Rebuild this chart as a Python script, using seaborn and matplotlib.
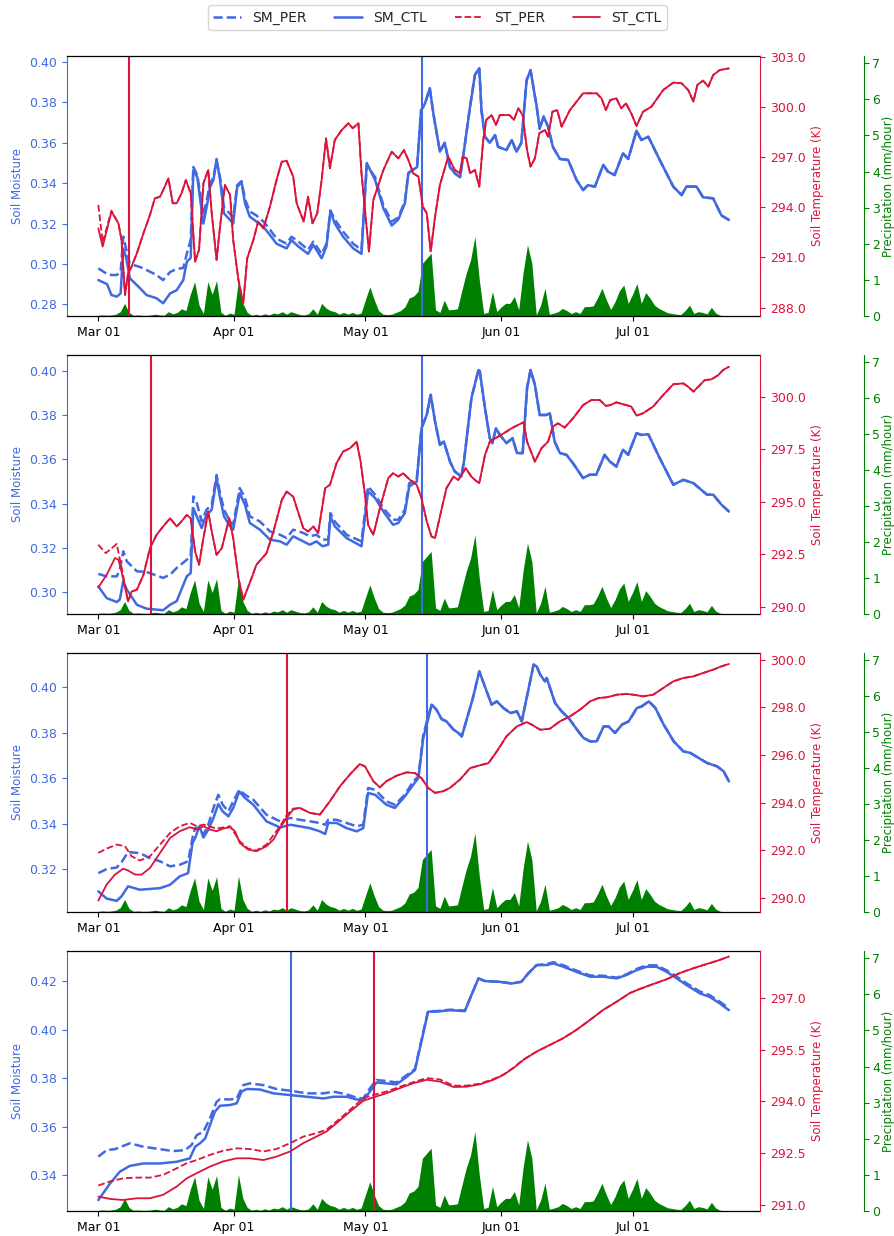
import numpy as np
import pandas as pd
import matplotlib
matplotlib.use("Agg")
import matplotlib.pyplot as plt
import matplotlib.dates as mdates
from matplotlib.lines import Line2D
from matplotlib.ticker import FormatStrFormatter
import seaborn as sns

# ---------------- data ----------------
START = "2019-03-01"   # day 0 of every series

# daily precipitation (mm/hour), day 0 .. 144 (same in all panels)
PRECIP = [0.02, 0.03, 0.02, 0.03, 0.05, 0.12, 0.35, 0.10, 0.02, 0.03,
          0.02, 0.02, 0.03, 0.05, 0.03, 0.02, 0.12, 0.06, 0.10, 0.20,
          0.15, 0.60, 0.95, 0.30, 0.07, 0.95, 0.60, 0.98, 0.10, 0.02,
          0.08, 0.05, 1.00, 0.35, 0.10, 0.02, 0.05, 0.02, 0.06, 0.03,
          0.08, 0.06, 0.12, 0.05, 0.12, 0.08, 0.04, 0.03, 0.06, 0.20,
          0.05, 0.35, 0.22, 0.15, 0.12, 0.05, 0.10, 0.05, 0.10, 0.05,
          0.08, 0.45, 0.81, 0.45, 0.15, 0.05, 0.04, 0.05, 0.10, 0.15,
          0.25, 0.50, 0.55, 0.68, 1.46, 1.60, 1.74, 0.17, 0.10, 0.44,
          0.17, 0.18, 0.20, 0.70, 1.18, 1.55, 2.20, 1.00, 0.07, 0.10,
          0.68, 0.12, 0.25, 0.35, 0.35, 0.54, 0.17, 1.20, 1.97, 1.46,
          0.03, 0.30, 0.77, 0.05, 0.08, 0.12, 0.21, 0.15, 0.07, 0.12,
          0.07, 0.26, 0.26, 0.28, 0.50, 0.77, 0.45, 0.18, 0.40, 0.70,
          0.86, 0.35, 0.60, 0.90, 0.35, 0.65, 0.49, 0.30, 0.21, 0.15,
          0.09, 0.07, 0.05, 0.04, 0.15, 0.30, 0.07, 0.12, 0.10, 0.06,
          0.24, 0.08, 0.02, 0.01, 0.00]

# ---- panel 1 : (day, value) ----
SM1_CTL = [(0, .2920), (2, .2900), (3, .2846), (4.2, .2838), (5.1, .2854), (5.7, .3077), (6.3, .3036),
           (7.2, .2929), (9.5, .2880), (11, .2846), (13.3, .2830), (14.8, .2805), (16.4, .2854),
           (17.9, .2870), (19.4, .2920), (20.2, .3010), (21.1, .3030), (21.7, .3465), (22.6, .3430),
           (23.2, .3330), (24, .3200), (24.9, .3300), (25.5, .3380), (26.3, .3416), (27, .3520),
           (27.8, .3416), (28.7, .3250), (30, .3220), (30.8, .3200), (31.7, .3380), (32.7, .3407),
           (33.5, .3300), (34.6, .3234), (36.1, .3210), (37.7, .3184), (39.2, .3143), (40.7, .3100),
           (43, .3077), (44.1, .3118), (45.7, .3086), (47.9, .3050), (49.1, .3094), (51, .3028),
           (52.1, .3086), (53, .3260), (54, .3200), (55.9, .3135), (58.2, .3077), (60.1, .3050),
           (61.3, .3500), (63.2, .3416), (65.1, .3275), (67, .3190), (68.5, .3220), (70, .3300),
           (70.8, .3449), (72.8, .3480), (73.7, .3760), (74.6, .3795), (75.7, .3870), (76.5, .3746),
           (78, .3556), (79.1, .3600), (80.3, .3480), (81.4, .3449), (82.6, .3430), (83.3, .3530),
           (84.9, .3780), (86, .3936), (87, .3970), (87.5, .3760), (88.3, .3630), (89.4, .3600),
           (90.6, .3638), (91.3, .3580), (93.2, .3564), (94.4, .3614), (95.5, .3556), (96.6, .3600),
           (97.8, .3910), (98.7, .3960), (100.1, .3780), (100.8, .3670), (101.7, .3730), (102.7, .3680),
           (103.8, .3580), (105.4, .3520), (107.3, .3515), (109.2, .3416), (110.7, .3366), (111.8, .3390),
           (113.4, .3383), (115.3, .3490), (116.4, .3457), (117.9, .3440), (119.8, .3548), (121, .3520),
           (122.9, .3660), (124, .3614), (125.6, .3630), (128.2, .3515), (131.3, .3383), (133.2, .3341),
           (134.3, .3383), (136.6, .3383), (138.1, .3330), (140.4, .3325), (142.3, .3240), (144, .3218)]
SM1_PER = [(0, .2978), (2, .2950), (3, .2945), (4.2, .2945), (5.1, .2960), (5.7, .3135), (6.3, .3080),
           (7.2, .3000), (9.5, .2985), (11, .2970), (13.3, .2945), (14.8, .2920), (16.4, .2960),
           (17.9, .2975), (19.4, .2980), (20.2, .3050), (21.1, .3120), (21.7, .3480), (22.6, .3440),
           (23.2, .3360), (24, .3240), (24.9, .3330), (25.5, .3400), (26.3, .3430), (27, .3510),
           (27.8, .3430), (28.7, .3280), (30, .3250), (30.8, .3230), (31.7, .3390), (32.7, .3410),
           (33.5, .3320), (34.6, .3260), (36.1, .3240), (37.7, .3210), (39.2, .3170), (40.7, .3125),
           (43, .3100), (44.1, .3135), (45.7, .3110), (47.9, .3070), (49.1, .3110), (51, .3050),
           (52.1, .3100), (53, .3265), (54, .3220), (55.9, .3160), (58.2, .3100), (60.1, .3070),
           (61.3, .3490), (63.2, .3430), (65.1, .3290), (67, .3210), (68.5, .3230), (70, .3310),
           (70.8, .3450), (72.8, .3485), (73.7, .3760), (74.6, .3795), (75.7, .3870), (76.5, .3746),
           (78, .3556), (79.1, .3600), (80.3, .3480), (81.4, .3449), (82.6, .3430), (83.3, .3530),
           (84.9, .3780), (86, .3936), (87, .3970), (87.5, .3760), (88.3, .3630), (89.4, .3600),
           (90.6, .3638), (91.3, .3580), (93.2, .3564), (94.4, .3614), (95.5, .3556), (96.6, .3600),
           (97.8, .3910), (98.7, .3960), (100.1, .3780), (100.8, .3670), (101.7, .3730), (102.7, .3680),
           (103.8, .3580), (105.4, .3520), (107.3, .3515), (109.2, .3416), (110.7, .3366), (111.8, .3390),
           (113.4, .3383), (115.3, .3490), (116.4, .3457), (117.9, .3440), (119.8, .3548), (121, .3520),
           (122.9, .3660), (124, .3614), (125.6, .3630), (128.2, .3515), (131.3, .3383), (133.2, .3341),
           (134.3, .3383), (136.6, .3383), (138.1, .3330), (140.4, .3325), (142.3, .3240), (144, .3218)]
ST1_CTL = [(0, 292.74), (1, 291.65), (3, 293.74), (4.6, 293.04), (5.3, 292.04), (6.1, 288.76), (6.8, 290.05),
           (7.6, 290.45), (8.8, 291.25), (10.3, 292.44), (11.8, 293.54), (12.9, 294.53), (14.1, 294.63),
           (15, 295.13), (16, 295.73), (17, 294.24), (17.9, 294.24), (19, 294.83), (20, 295.63),
           (21.1, 294.83), (22.1, 290.75), (23, 291.45), (24, 295.43), (25.1, 296.23), (25.9, 293.64),
           (27, 290.85), (27.8, 292.84), (28.9, 295.33), (30.1, 294.73), (30.8, 292.04), (32, 289.65),
           (33.1, 288.26), (34, 290.95), (35.4, 292.04), (36.5, 293.14), (37.7, 292.74), (39.2, 294.04),
           (40.7, 295.63), (41.9, 296.72), (43, 296.78), (44.5, 295.83), (45.3, 294.24), (46.9, 293.14),
           (47.9, 294.63), (48.9, 293.04), (50, 293.64), (51, 295.63), (52, 298.12), (52.9, 296.33),
           (54, 298.02), (55.6, 298.62), (57.1, 299.02), (58.1, 298.72), (59.4, 299.02), (60.1, 296.03),
           (61.8, 291.35), (62.8, 294.43), (65.1, 296.23), (67, 297.32), (68.5, 296.92), (69.8, 297.42),
           (70.8, 296.82), (71.9, 296.03), (73.1, 295.83), (74.1, 294.04), (75, 293.64), (75.9, 291.35),
           (76.9, 293.44), (78, 295.33), (79.9, 297.02), (81.4, 296.23), (82.6, 296.03), (83.2, 297.02),
           (84.1, 296.92), (84.9, 296.03), (86, 296.23), (87, 295.23), (87.9, 298.02), (88.6, 299.22),
           (89.8, 299.51), (90.8, 298.92), (91.7, 299.51), (93.9, 299.51), (94.9, 299.22), (95.9, 299.91),
           (96.9, 299.51), (97.9, 297.42), (98.7, 296.43), (99.7, 296.92), (100.7, 298.42), (102, 298.62),
           (102.7, 298.22), (103.7, 299.71), (104.8, 299.81), (105.8, 298.82), (107.7, 299.81),
           (110.7, 300.81), (113.8, 300.81), (114.9, 300.51), (115.9, 299.81), (116.9, 300.41),
           (118.3, 300.51), (119.4, 299.91), (120.5, 300.21), (121.7, 299.61), (122.9, 298.86),
           (124.4, 299.71), (126.3, 300.01), (129, 301.01), (131.3, 301.45), (133.2, 301.41),
           (134.7, 301.01), (135.9, 300.31), (136.8, 301.31), (138.1, 301.57), (139.3, 301.21),
           (140.4, 301.90), (141.9, 302.20), (144, 302.30)]
ST1_PER = [(0, 294.14), (1, 291.90), (3, 293.80)] + ST1_CTL[3:]

# ---- panel 2 ----
SM2_CTL = [(0, .3027), (1.9, .2974), (4.2, .2956), (4.9, .2967), (5.7, .3050), (6.5, .3012), (8.8, .2944),
           (11, .2926), (14.8, .2919), (16.4, .2944), (17.9, .2960), (20.2, .3072), (21.1, .3087),
           (21.7, .3380), (22.5, .3343), (23.6, .3290), (24.7, .3350), (25.9, .3373), (27, .3516),
           (27.8, .3426), (28.7, .3343), (30.1, .3298), (30.8, .3283), (32.3, .3448), (33.5, .3395),
           (34.6, .3313), (36.9, .3283), (39.2, .3238), (41.5, .3230), (43, .3215), (44.5, .3253),
           (46.8, .3230), (48.3, .3215), (49.8, .3230), (51.2, .3208), (52.5, .3215), (53, .3343),
           (54, .3298), (56.7, .3245), (60.1, .3208), (61.6, .3456), (63.2, .3426), (65.1, .3365),
           (67.3, .3305), (68.5, .3313), (70, .3358), (71, .3478), (72.7, .3500), (73.8, .3741),
           (75, .3802), (75.9, .3892), (76.9, .3771), (78, .3666), (78.9, .3681), (80.3, .3591),
           (81.4, .3546), (82.9, .3523), (83.5, .3591), (85.2, .3877), (86.8, .4004), (87.1, .4000),
           (88.3, .3832), (89.4, .3696), (90, .3674), (90.8, .3741), (91.7, .3711), (93.2, .3674),
           (94.6, .3696), (95.6, .3629), (96.9, .3629), (97.9, .3922), (98.7, .4004), (99.7, .3937),
           (100.8, .3801), (102.3, .3801), (103.1, .3809), (104.2, .3681), (105.4, .3629), (106.9, .3621),
           (108.4, .3583), (110.7, .3516), (112.2, .3531), (113.7, .3531), (115.6, .3621), (116.8, .3591),
           (118.3, .3568), (119.8, .3644), (121, .3621), (122.9, .3719), (124, .3711), (125.6, .3714),
           (128.2, .3606), (131.3, .3486), (133.6, .3508), (135.9, .3493), (139, .3441), (140.4, .3441),
           (142.3, .3396), (144, .3365)]
SM2_PER = [(0, .3083), (1.9, .3072), (4.2, .3072), (4.9, .3100), (5.7, .3185), (6.5, .3140), (8.8, .3095),
           (11, .3092), (14.8, .3065), (16.4, .3080), (17.9, .3110), (20.2, .3147), (21.1, .3162),
           (21.7, .3433), (22.5, .3403), (23.6, .3320), (24.7, .3373), (25.9, .3395), (27, .3530),
           (27.8, .3448), (28.7, .3373), (30.1, .3320), (30.8, .3305), (32.3, .3471), (33.5, .3426),
           (34.6, .3343), (36.9, .3320), (39.2, .3275), (41.5, .3260), (43, .3245), (44.5, .3283),
           (46.8, .3268), (48.3, .3253), (49.8, .3260), (51.2, .3238), (52.5, .3238), (53, .3358),
           (54, .3320), (56.7, .3260), (60.1, .3230), (61.6, .3478), (63.2, .3441), (65.1, .3380),
           (67.3, .3328), (68.5, .3328), (70, .3373), (71, .3493), (72.7, .3508)] + SM2_CTL[48:]
ST2_CTL = [(0, 290.93), (1.9, 291.53), (3.8, 292.33), (4.6, 292.25), (5.3, 291.69), (6.8, 290.27),
           (7.6, 290.74), (8.8, 290.82), (10.3, 291.53), (11.8, 292.80), (13.3, 293.43), (14.8, 293.83),
           (16.4, 294.22), (17.9, 293.83), (19, 294.07), (20.2, 294.38), (21.1, 294.22), (22.1, 292.64),
           (23, 292.01), (24, 293.28), (25.1, 294.54), (25.9, 293.59), (27, 292.48), (28.2, 292.80),
           (29.9, 294.22), (30.8, 293.28), (32, 291.38), (33.1, 290.35), (35, 291.38), (36.1, 292.01),
           (38.4, 292.56), (40, 293.59), (41.9, 295.09), (43, 295.49), (44.5, 295.25), (46.8, 293.75),
           (47.9, 293.59), (49.1, 293.83), (50.2, 293.51), (51.8, 295.65), (52.9, 295.81), (54.4, 296.84),
           (55.9, 297.39), (57.5, 297.55), (59, 297.86), (59.9, 296.91), (60.9, 295.33), (61.6, 293.91),
           (62.8, 293.43), (64.3, 294.70), (66.2, 296.12), (67.3, 296.36), (68.5, 296.20), (69.6, 296.36),
           (71.2, 296.04), (72.7, 295.81), (73.8, 295.17), (75, 294.07), (76.1, 293.35), (76.9, 293.28),
           (78, 294.30), (79.5, 295.65), (81.1, 296.20), (82.2, 296.04), (83.9, 296.60), (85.2, 296.20),
           (86, 296.04), (87, 295.89), (88.3, 297.23), (89.4, 297.86), (91.3, 298.10), (93.2, 298.34),
           (94.4, 298.50), (95.9, 298.66), (97.1, 298.78), (97.9, 297.86), (99.7, 296.91), (101.2, 297.55),
           (102.7, 297.86), (103.8, 298.58), (105, 298.73), (106.5, 298.53), (108.4, 298.97),
           (110.7, 299.60), (112.6, 299.84), (114.5, 299.84), (115.9, 299.56), (116.9, 299.60),
           (118.3, 299.73), (120.5, 299.60), (121.7, 299.53), (122.9, 299.10), (124.4, 299.21),
           (126.7, 299.53), (129, 300.08), (131.3, 300.59), (133.6, 300.63), (134.7, 300.47),
           (135.9, 300.24), (137, 300.47), (138.5, 300.79), (140, 300.82), (141.6, 301.03),
           (142.7, 301.27), (144, 301.42)]
ST2_PER = [(0, 292.96), (1.7, 292.56), (4.2, 293.00), (5.3, 291.90)] + ST2_CTL[5:]

# ---- panel 3 ----
SM3_CTL = [(0, .3102), (1.9, .3070), (4.2, .3060), (5.3, .3080), (6.8, .3124), (9.5, .3109), (14.1, .3116),
           (16.4, .3131), (18.6, .3168), (20.5, .3182), (21.5, .3314), (22.1, .3336), (23.1, .3388),
           (24, .3339), (25.1, .3373), (26.3, .3425), (27.4, .3486), (28.4, .3454), (29.7, .3432),
           (30.8, .3469), (32.2, .3542), (33.5, .3513), (35.4, .3483), (38.4, .3410), (41.5, .3383),
           (43.8, .3395), (46, .3388), (48.3, .3380), (50.6, .3366), (51.8, .3354), (52.5, .3403),
           (54.4, .3403), (56.7, .3380), (59, .3366), (60.5, .3380), (61.6, .3535), (63.2, .3527),
           (65.8, .3483), (67.7, .3469), (70, .3520), (71.9, .3571), (73.1, .3601), (74.2, .3777),
           (75.3, .3858), (76.1, .3924), (77.2, .3902), (78.4, .3860), (79.5, .3850), (81.1, .3814),
           (82.2, .3799), (83, .3784), (85.5, .3950), (87, .4070), (89.8, .3924), (91, .3938),
           (92.5, .3909), (94.1, .3887), (95.6, .3894), (96.7, .3850), (99.4, .4100), (100.1, .4092),
           (100.9, .4056), (102, .4026), (102.4, .4041), (104.3, .3931), (105.8, .3894), (107.4, .3865),
           (109.3, .3814), (110.8, .3777), (112.3, .3762), (113.8, .3762), (115.4, .3828), (116.5, .3828),
           (118, .3799), (119.6, .3836), (121.1, .3850), (123, .3909), (124.1, .3916), (125.7, .3938),
           (127.2, .3909), (129.1, .3836), (131.4, .3762), (133.6, .3718), (135.2, .3711), (137.1, .3689),
           (139, .3667), (141.3, .3652), (142.8, .3630), (144, .3586)]
SM3_PER = [(0, .3182), (1.9, .3200), (4.2, .3207), (5.3, .3230), (6.8, .3275), (9.5, .3270), (11.8, .3248),
           (14.1, .3234), (16.4, .3212), (18.6, .3219), (20.5, .3234), (21.5, .3336), (22.1, .3381),
           (23.1, .3381), (24, .3351), (25.1, .3395), (26.3, .3469), (27.4, .3527), (28.4, .3483),
           (29.7, .3454), (30.8, .3498), (32.2, .3549), (33.5, .3527), (35.4, .3505), (38.4, .3439),
           (41.5, .3410), (43.8, .3425), (46, .3417), (48.3, .3410), (50.6, .3403), (51.8, .3395),
           (52.5, .3417), (54.4, .3417), (56.7, .3403), (59, .3388), (60.5, .3395), (61.6, .3557),
           (63.2, .3549), (65.8, .3498), (67.7, .3483), (70, .3527), (71.9, .3586), (73.1, .3608),
           (74.2, .3790), (75.3, .3870)] + SM3_CTL[44:]
ST3_CTL = [(0, 289.89), (1.9, 290.56), (3.8, 290.98), (5.7, 291.23), (6.8, 291.15), (8.4, 290.98),
           (9.9, 290.98), (11.8, 291.26), (14.1, 291.89), (16.4, 292.52), (18.6, 292.80), (20.9, 292.97),
           (22.5, 292.87), (24, 293.01), (25.5, 292.87), (27, 292.80), (28.5, 292.91), (30.1, 292.97),
           (31.2, 292.80), (32.3, 292.31), (34.2, 292.03), (36.1, 291.96), (38.4, 292.17), (40, 292.45),
           (41.5, 292.94), (43, 293.36), (44.5, 293.71), (46, 293.78), (48.3, 293.57), (50.6, 293.50),
           (52.9, 294.06), (55.2, 294.69), (57.4, 295.17), (59.7, 295.62), (60.9, 295.52), (62.8, 294.90),
           (64.3, 294.64), (65.8, 294.90), (68.1, 295.13), (70.4, 295.27), (72.3, 295.24), (73.8, 295.03),
           (75.3, 294.62), (76.9, 294.41), (78.8, 294.48), (80.3, 294.62), (82.6, 294.97), (84.9, 295.45),
           (87.2, 295.57), (89.1, 295.66), (91, 296.15), (93.2, 296.78), (95.6, 297.20), (97.8, 297.38),
           (99, 297.27), (100.9, 297.06), (103.1, 297.10), (105.4, 297.41), (107.7, 297.62), (110, 297.90),
           (112.3, 298.25), (114.2, 298.39), (116.1, 298.42), (118.4, 298.53), (120.6, 298.56),
           (122.2, 298.53), (124.4, 298.46), (126.7, 298.53), (129, 298.81), (131.3, 299.09),
           (133.6, 299.23), (135.9, 299.30), (138.1, 299.44), (140.4, 299.58), (142.3, 299.72), (144, 299.82)]
ST3_PER = [(0, 291.89), (1.9, 292.07), (4.2, 292.24), (6.1, 292.17), (7.6, 291.75), (9.5, 291.57),
           (11.8, 291.75), (14.1, 292.24), (16.4, 292.73), (18.6, 293.01), (20.9, 293.15), (22.5, 293.01),
           (24, 293.08), (27, 292.91), (30.1, 293.01), (32.3, 292.38), (34.2, 292.07), (36.1, 291.99),
           (38.4, 292.24), (41.5, 293.01), (43, 293.47), (44.5, 293.75)] + ST3_CTL[27:]

# ---- panel 4 ----
SM4_CTL = [(0, .3297), (2.7, .3366), (4.9, .3414), (7.2, .3438), (10.3, .3448), (14.1, .3448), (17.9, .3455),
           (20.9, .3469), (22.1, .3517), (23.2, .3531), (24.4, .3551), (25.5, .3606), (26.6, .3661),
           (27.8, .3686), (30.1, .3689), (31.6, .3696), (32.7, .3744), (33.9, .3755), (36.9, .3753),
           (40, .3737), (43.8, .3730), (47.6, .3723), (51.4, .3716), (53.7, .3723), (56.7, .3723),
           (59, .3712), (60.5, .3709), (62, .3744), (63.5, .3782), (65.8, .3778), (68.1, .3774),
           (70.4, .3805), (72.3, .3833), (74.2, .3984), (75.3, .4074), (77.2, .4074), (80.3, .4080),
           (83.7, .4076), (85.2, .4142), (86.8, .4211), (88.3, .4200), (91.7, .4197), (94.4, .4190),
           (96.6, .4197), (98.2, .4232), (100.1, .4266), (102.4, .4266), (103.9, .4273), (106.2, .4259),
           (109.2, .4238), (112.3, .4218), (115.3, .4218), (118.4, .4211), (120.6, .4225), (122.9, .4245),
           (125.2, .4259), (127.5, .4259), (129.8, .4238), (132.1, .4211), (134.3, .4184), (137.4, .4149),
           (139.6, .4135), (141.9, .4108), (144, .4080)]
SM4_PER = [(0, .3476), (1.9, .3503), (3.8, .3507), (7.2, .3531), (10.3, .3517), (14.1, .3507), (17.1, .3499),
           (19.8, .3503), (21.3, .3524), (22.5, .3565), (24, .3579), (25.5, .3634), (27, .3702),
           (27.8, .3713), (30.1, .3712), (31.6, .3716), (33.1, .3771), (34.6, .3778), (37.7, .3771),
           (40.7, .3755), (43.8, .3748), (47.6, .3737), (51.4, .3737), (53.7, .3744), (56.7, .3733),
           (59, .3719), (60.5, .3716), (62, .3757), (63.5, .3792), (65.8, .3788), (68.1, .3782),
           (70.4, .3812), (72.3, .3837), (74.2, .3990), (75.3, .4076), (77.2, .4076), (80.3, .4082),
           (83.7, .4078), (85.2, .4142), (86.8, .4211), (88.3, .4200), (91.7, .4197), (94.4, .4190),
           (96.6, .4197), (98.2, .4232), (100.1, .4266), (102.4, .4270), (103.9, .4278), (106.2, .4265),
           (109.2, .4243), (112.3, .4223), (115.3, .4222), (118.4, .4214), (120.6, .4228), (122.9, .4250),
           (125.2, .4265), (127.5, .4265), (129.8, .4244), (132.1, .4218), (134.3, .4191), (137.4, .4157),
           (139.6, .4142), (141.9, .4115), (144, .4088)]
ST4_CTL = [(0, 291.24), (2.7, 291.17), (5.7, 291.14), (8.8, 291.19), (11.8, 291.19), (14.8, 291.29),
           (17.9, 291.53), (20.2, 291.77), (22.5, 291.92), (25.5, 292.11), (28.5, 292.26), (31.6, 292.35),
           (34.6, 292.35), (37.7, 292.30), (40.7, 292.40), (43.8, 292.55), (46.8, 292.79), (49.8, 292.98),
           (52.1, 293.13), (54.4, 293.37), (57.5, 293.71), (60.5, 294.02), (62.8, 294.12), (65.8, 294.24),
           (68.9, 294.39), (71.9, 294.53), (75, 294.63), (78, 294.58), (81.1, 294.42), (84.1, 294.43),
           (87.2, 294.50), (90.2, 294.63), (92.5, 294.77), (94.8, 294.97), (97.1, 295.21), (100.1, 295.45),
           (103.1, 295.64), (106.2, 295.84), (109.2, 296.08), (112.3, 296.37), (115.3, 296.66),
           (118.4, 296.90), (121.4, 297.15), (123.7, 297.27), (126.7, 297.41), (129.8, 297.55),
           (132.8, 297.73), (135.9, 297.87), (138.9, 297.99), (141.9, 298.11), (144, 298.21)]
ST4_PER = [(0, 291.56), (2.7, 291.68), (5.7, 291.77), (8.8, 291.79), (11.8, 291.79), (14.8, 291.87),
           (17.9, 292.06), (20.2, 292.21), (22.5, 292.30), (25.5, 292.45), (28.5, 292.57), (31.6, 292.64),
           (34.6, 292.62), (37.7, 292.55), (40.7, 292.62), (43.8, 292.79), (46.8, 292.98), (49.8, 293.08),
           (52.1, 293.18), (54.4, 293.42), (57.5, 293.76), (60.5, 294.10), (62.8, 294.19), (65.8, 294.29),
           (68.9, 294.43), (71.9, 294.56), (75, 294.68), (78, 294.64), (81.1, 294.46), (84.1, 294.46),
           (87.2, 294.52), (90.2, 294.65), (92.5, 294.78), (94.8, 294.98), (97.1, 295.22)] + ST4_CTL[35:]

SM_CTL = [SM1_CTL, SM2_CTL, SM3_CTL, SM4_CTL]
SM_PER = [SM1_PER, SM2_PER, SM3_PER, SM4_PER]
ST_CTL = [ST1_CTL, ST2_CTL, ST3_CTL, ST4_CTL]
ST_PER = [ST1_PER, ST2_PER, ST3_PER, ST4_PER]

# marker dates (vertical lines)
VLINE_ST = ["2019-03-08", "2019-03-13", "2019-04-13", "2019-05-03"]
VLINE_SM = ["2019-05-14", "2019-05-14", "2019-05-15", "2019-04-14"]

# axis ranges and ticks
SM_LIM = [(0.2742, 0.4030), (0.2902, 0.4072), (0.3011, 0.4151), (0.3252, 0.4324)]
SM_TICKS = [[0.28, 0.30, 0.32, 0.34, 0.36, 0.38, 0.40],
            [0.30, 0.32, 0.34, 0.36, 0.38, 0.40],
            [0.32, 0.34, 0.36, 0.38, 0.40],
            [0.34, 0.36, 0.38, 0.40, 0.42]]
ST_LIM = [(287.50, 303.04), (289.67, 301.98), (289.41, 300.28), (290.82, 298.37)]
ST_TICKS = [[288, 291, 294, 297, 300, 303],
            [290, 292.5, 295, 297.5, 300],
            [290, 292, 294, 296, 298, 300],
            [291, 292.5, 294, 295.5, 297]]
PR_LIM = (0, 7.2)
PR_TICKS = [0, 1, 2, 3, 4, 5, 6, 7]
LEGEND_LABELS = ["SM_PER", "SM_CTL", "ST_PER", "ST_CTL"]

# ---------------- plotting ----------------
sns.set_style("ticks")
plt.rcParams["font.family"] = ["DejaVu Sans"]

C_SM, C_ST, C_PR = "royalblue", "crimson", "green"
LW_SM, LW_ST = 1.8, 1.3
W, H = 895, 1236
PANELS = [(56, 316), (355, 614), (653, 912), (951, 1211)]

base = pd.Timestamp(START)


def to_dates(days):
    return base + pd.to_timedelta(np.asarray(days, dtype=float), unit="D")


def split(pairs):
    d, v = zip(*pairs)
    return to_dates(d), np.asarray(v, dtype=float)


fig = plt.figure(figsize=(W / 100, H / 100), dpi=100)
fig.patch.set_facecolor("white")

pr_dates = to_dates(np.arange(len(PRECIP)))
xlim = (base + pd.Timedelta(days=-7.15), base + pd.Timedelta(days=151.1))

for i, (top, bot) in enumerate(PANELS):
    ax = fig.add_axes([67 / W, 1 - bot / H, 693 / W, (bot - top) / H])
    ax2 = ax.twinx()
    ax3 = ax.twinx()
    ax3.set_zorder(1)
    ax.set_zorder(2)
    ax2.set_zorder(3)
    ax.patch.set_visible(False)

    # precipitation
    ax3.fill_between(pr_dates, 0, PRECIP, color=C_PR, lw=0)

    # soil moisture
    x, y = split(SM_CTL[i])
    sns.lineplot(x=x, y=y, ax=ax, color=C_SM, lw=LW_SM, errorbar=None)
    x, y = split(SM_PER[i])
    sns.lineplot(x=x, y=y, ax=ax, color=C_SM, lw=LW_SM, ls="--", errorbar=None)

    # soil temperature
    x, y = split(ST_CTL[i])
    sns.lineplot(x=x, y=y, ax=ax2, color=C_ST, lw=LW_ST, errorbar=None)
    x, y = split(ST_PER[i])
    sns.lineplot(x=x, y=y, ax=ax2, color=C_ST, lw=LW_ST, ls="--", errorbar=None)

    # vertical markers
    ax.axvline(pd.Timestamp(VLINE_ST[i]), color=C_ST, lw=1.5)
    ax.axvline(pd.Timestamp(VLINE_SM[i]), color=C_SM, lw=1.5)

    # x axis
    ax.set_xlim(xlim)
    ax.xaxis.set_major_locator(mdates.MonthLocator())
    ax.xaxis.set_major_formatter(mdates.DateFormatter("%b %d"))
    ax.tick_params(axis="x", colors="black", labelsize=9)
    ax.set_xlabel("")

    # left axis (soil moisture)
    ax.set_ylim(SM_LIM[i])
    ax.set_yticks(SM_TICKS[i])
    ax.yaxis.set_major_formatter(FormatStrFormatter("%.2f"))
    ax.tick_params(axis="y", colors=C_SM, labelsize=9)
    ax.set_ylabel("Soil Moisture", color=C_SM, fontsize=8.5)

    # right axis (soil temperature)
    ax2.set_ylim(ST_LIM[i])
    ax2.set_yticks(ST_TICKS[i])
    ax2.yaxis.set_major_formatter(FormatStrFormatter("%.1f"))
    ax2.tick_params(axis="y", colors=C_ST, labelsize=9)
    ax2.set_ylabel("Soil Temperature (K)", color=C_ST, fontsize=8.5)

    # far right axis (precipitation)
    ax3.set_ylim(PR_LIM)
    ax3.set_yticks(PR_TICKS)
    ax3.tick_params(axis="y", colors=C_PR, labelsize=9, pad=2.5)
    ax3.set_ylabel("Precipitation (mm/hour)", color=C_PR, fontsize=8.5, labelpad=1.5)
    ax3.spines["right"].set_position(("axes", 1.15))

    # spines
    for s in ["top", "bottom"]:
        ax.spines[s].set_color("black")
        ax.spines[s].set_linewidth(0.9)
    ax.spines["left"].set_color(C_SM)
    ax.spines["right"].set_visible(False)
    for s in ["left", "top", "bottom"]:
        ax2.spines[s].set_visible(False)
        ax3.spines[s].set_visible(False)
    ax2.spines["right"].set_color(C_ST)
    ax3.spines["right"].set_color(C_PR)

handles = [Line2D([], [], color=C_SM, lw=LW_SM, ls="--"),
           Line2D([], [], color=C_SM, lw=LW_SM, ls="-"),
           Line2D([], [], color=C_ST, lw=LW_ST, ls="--"),
           Line2D([], [], color=C_ST, lw=LW_ST, ls="-")]
fig.legend(handles, LEGEND_LABELS, loc="upper center", ncol=4, fontsize=10,
           bbox_to_anchor=(437.5 / W, 1 - 5 / H), borderaxespad=0, frameon=True,
           edgecolor="#cccccc", fancybox=True)

fig.savefig("out.png", dpi=100)
